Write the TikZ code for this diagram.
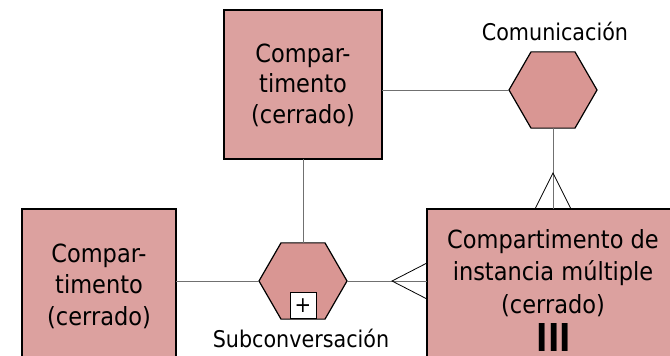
\documentclass[tikz,border=0pt]{standalone}
\usepackage{fontspec}
\setmainfont{DejaVu Sans Condensed}
\usetikzlibrary{shapes.geometric}
\definecolor{boxfill}{HTML}{DCA19F}
\definecolor{hexfill}{HTML}{D99693}
\definecolor{connc}{HTML}{707070}
\begin{document}
\begin{tikzpicture}[x=1pt,y=-1pt,
  box/.style={draw=black, line width=1.5pt, fill=boxfill, rectangle, inner sep=0pt, outer sep=0pt},
  hexa/.style={draw=black, line width=1.2pt, fill=hexfill, regular polygon, regular polygon sides=6, minimum size=88pt, inner sep=0pt, outer sep=0pt},
  txt/.style={align=center, inner sep=0pt},
  lbl/.style={font=\fontsize{23}{27}\selectfont, inner sep=0pt},
  conn/.style={draw=connc, line width=1pt},
  crow/.style={draw=black, line width=0.8pt},
  plusbox/.style={draw=black, fill=white, line width=1pt, minimum size=26pt, inner sep=0pt, font=\fontsize{22}{22}\selectfont}
]
\useasboundingbox (0,0) rectangle (670,356);
\clip (0,0) rectangle (670,356);

\node[box, minimum width=158pt, minimum height=149pt] (top) at (303,84.5) {};
\node[box, minimum width=154pt, minimum height=200pt] (left) at (99,309) {};
\node[box, minimum width=300pt, minimum height=200pt] (right) at (577,309) {};
\node[hexa] (com) at (553,90) {};
\node[hexa] (sub) at (303,281) {};

\draw[conn] (top.east |- com.west) -- (com.west);
\draw[conn] (top.south -| sub.north) -- (sub.north);
\draw[conn] (left.east |- sub.west) -- (sub.west);
\draw[conn] (sub.east) -- (sub.east -| right.west);
\draw[conn] (com.south) -- (com.south |- right.north);

% crow's feet
\coordinate (subapex) at (392,281);
\coordinate (subf1) at (427,263);
\coordinate (subf2) at (427,299);
\draw[crow] (subf1) -- (subapex) -- (subf2);
\coordinate (comapex) at (553,173);
\coordinate (comf1) at (535,209);
\coordinate (comf2) at (571,209);
\draw[crow] (comf1) -- (comapex) -- (comf2);

\node[plusbox, anchor=south] (plus) at (sub.south) {+};

% texts
\node[txt, font=\fontsize{25}{30.5}\selectfont] (toptxt) at (303,85) {Compar-\\timento\\(cerrado)};
\node[txt, font=\fontsize{25}{31.5}\selectfont] (lefttxt) at (99,286) {Compar-\\timento\\(cerrado)};
\node[txt, font=\fontsize{25}{32.5}\selectfont] (righttxt) at (553,273) {Compartimento de\\instancia múltiple\\(cerrado)};
\node[inner sep=0pt, anchor=north] (multi) at (554,323) {\resizebox{34pt}{28pt}{\bfseries III}};
\node[lbl] (comlbl) at (555,31) {Comunicación};
\node[lbl] (sublbl) at (301,338) {Subconversación};
\end{tikzpicture}
\end{document}
